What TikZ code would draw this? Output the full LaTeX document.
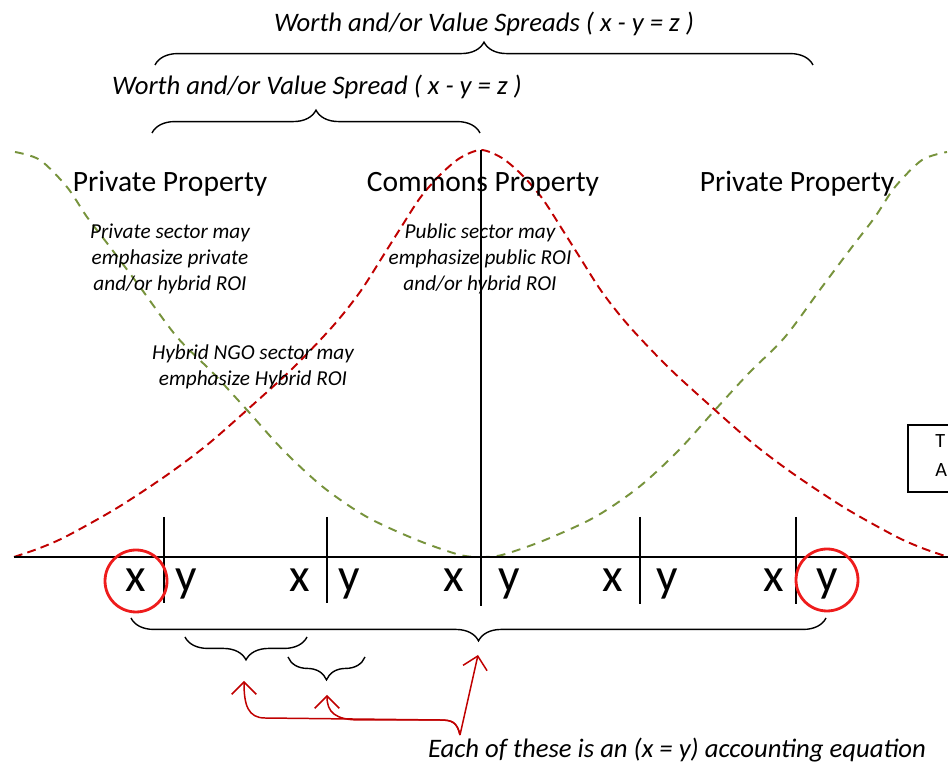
\documentclass[tikz,border=0pt]{standalone}
\usepackage{fontspec}
\setmainfont{Carlito}
\usetikzlibrary{decorations.pathreplacing,arrows.meta}
\definecolor{darkred}{HTML}{C00000}
\definecolor{olivegreen}{HTML}{77933C}
\definecolor{ringred}{HTML}{EE1C1C}
\begin{document}
\begin{tikzpicture}[x=0.02cm, y=-0.02cm,
    redcurve/.style={darkred, line width=1.1pt, dash pattern=on 5pt off 3pt},
    greencurve/.style={olivegreen, line width=1.1pt, dash pattern=on 5pt off 4pt},
    bigtext/.style={inner sep=0pt, font=\fontsize{16.8}{20}\selectfont},
    note/.style={inner sep=0pt, align=center, font=\fontsize{12.1}{14.8}\selectfont\itshape},
    spread/.style={inner sep=0pt, font=\fontsize{15.2}{18}\selectfont\itshape},
    var/.style={inner sep=0pt, font=\fontsize{27}{30}\selectfont},
    spanbrace/.style={decorate, decoration={brace, amplitude=13pt}, line width=0.8pt},
    ring/.style={circle, draw=ringred, line width=1.6pt, minimum size=1.24cm, inner sep=0pt},
    redarrow/.style={darkred, line width=0.85pt, -{Straight Barb[length=7pt, width=14pt]}}]
    \clip (0,0) rectangle (948,763);

    % 曲线
    \draw[redcurve] plot[smooth] coordinates {(14,557) (40,548) (67,536) (117,508) (167,475)
        (207,445) (247,410) (293,368) (333,326) (360,292) (383,256) (400,229) (420,198)
        (440,175) (460,158) (481,150) (502,158) (522,175) (542,198) (562,229) (579,256)
        (602,292) (629,326) (669,368) (715,410) (755,445) (795,475) (845,508) (895,536)
        (922,548) (948,557)};
    \draw[greencurve] plot[smooth] coordinates {(15,152) (40,160) (67,187) (87,217) (110,247)
        (140,287) (177,337) (213,373) (247,410) (283,450) (323,487) (367,517) (417,540)
        (460,555) (481,557)};
    \draw[greencurve] plot[smooth] coordinates {(481,557) (502,555) (545,540) (595,517)
        (639,487) (679,450) (715,410) (749,373) (785,337) (822,287) (852,247) (875,217)
        (895,187) (922,160) (947,152)};

    % 坐标轴
    \draw[line width=1.2pt] (14,557) -- (948,557);
    \draw[line width=1.2pt] (481,150) -- (481,606);
    \draw[line width=1.1pt] (164,517) -- (164,603);
    \draw[line width=1.1pt] (327,517) -- (327,603);
    \draw[line width=1.1pt] (640,517) -- (640,604);
    \draw[line width=1.1pt] (796,517) -- (796,604);

    % 标题
    \node[bigtext, anchor=base] (privL) at (170,192) {Private Property};
    \node[bigtext, anchor=base] (commons) at (483,192) {Commons Property};
    \node[bigtext, anchor=base] (privR) at (797,192) {Private Property};
    \node[note] (privnote) at (170,259) {Private sector may\\emphasize private\\and/or hybrid ROI};
    \node[note] (pubnote) at (480,259) {Public sector may\\emphasize public ROI\\and/or hybrid ROI};
    \node[note] (ngonote) at (253,367) {Hybrid NGO sector may\\emphasize Hybrid ROI};

    % 右侧框
    \draw[line width=0.9pt] (908,425) rectangle (990,492);
    \node[inner sep=0pt, anchor=base west, font=\fontsize{11.5}{14}\selectfont] (boxT) at (935,448) {T};
    \node[inner sep=0pt, anchor=base west, font=\fontsize{11.5}{14}\selectfont] (boxA) at (935,477) {A};

    % 大括号
    \draw[spanbrace] (155,65) -- (813,65);
    \node[spread, anchor=base] (spreads) at (484,32) {Worth and/or Value Spreads ( x - y = z )};
    \draw[spanbrace] (152,133) -- (480,133);
    \node[spread, anchor=base] (spread) at (317,95) {Worth and/or Value Spread ( x - y = z )};

    % x 与 y
    \node[var, anchor=base] (xa) at (136,592) {x};
    \node[var, anchor=base] (ya) at (186,592) {y};
    \node[var, anchor=base] (xb) at (300,592) {x};
    \node[var, anchor=base] (yb) at (349,592) {y};
    \node[var, anchor=base] (xc) at (454,592) {x};
    \node[var, anchor=base] (yc) at (509,592) {y};
    \node[var, anchor=base] (xd) at (613,592) {x};
    \node[var, anchor=base] (yd) at (667,592) {y};
    \node[var, anchor=base] (xe) at (774,592) {x};
    \node[var, anchor=base] (ye) at (827,592) {y};
    \node[ring] (ringL) at (136,581) {};
    \node[ring] (ringR) at (827,580) {};

    % 下方括号
    \draw[spanbrace, decoration={mirror}] (131,618) -- (826,618);
    \draw[spanbrace, decoration={mirror}] (185,637) -- (307,637);
    \draw[spanbrace, decoration={mirror}] (288,657) -- (365,657);

    % 箭头
    \node[spread, anchor=base] (eqn) at (677,758) {Each of these is an (x = y) accounting equation};
    \coordinate (junc) at (460,735);
    \coordinate (tipA) at (478,655);
    \coordinate (tipB) at (244,681);
    \coordinate (tipC) at (327,695);
    \draw[redarrow] (junc) -- (tipA);
    \draw[redarrow] (junc) .. controls (457,722) and (452,720) .. (440,720) -- (265,718)
        .. controls (248,718) and (244,705) .. (tipB);
    \draw[redarrow] (junc) .. controls (457,722) and (452,720) .. (440,720) -- (360,720)
        .. controls (335,720) and (327,712) .. (tipC);
\end{tikzpicture}
\end{document}
